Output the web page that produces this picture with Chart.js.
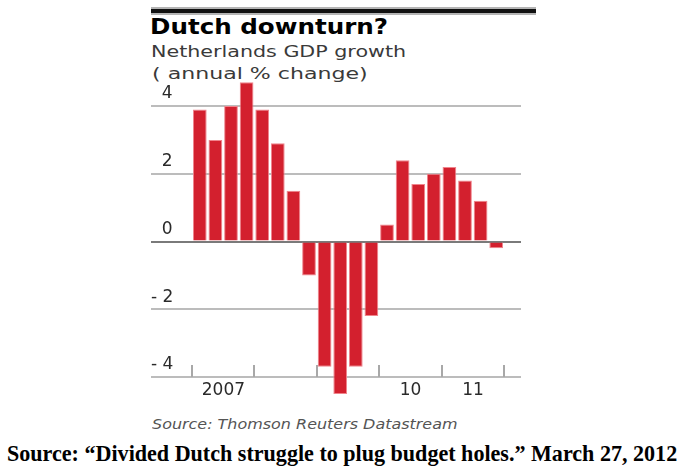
<!DOCTYPE html>
<html lang="en">
<head>
<meta charset="UTF-8" />
<title>Dutch downturn?</title>
<script src="https://cdn.jsdelivr.net/npm/chart.js"></script>
<style>
  body { margin: 0; width: 693px; height: 468px; background: #fff; position: relative; overflow: hidden; font-family: "DejaVu Sans", sans-serif; }
  .abs { position: absolute; white-space: nowrap; transform-origin: left top; }
  #ruleBack { left: 151px; top: 7px; width: 385px; height: 8px; background: #b4b4b4; }
  #rule { left: 151px; top: 9px; width: 385px; height: 4px; background: #111; }
  #title { left: 150px; top: 15px; font-weight: bold; font-size: 21px; color: #000; transform: scaleX(1.17); }
  #sub1 { left: 151px; top: 42px; font-size: 16px; color: #3a3a3a; transform: scaleX(1.29); }
  #sub2 { left: 152px; top: 64px; font-size: 16px; color: #3a3a3a; transform: scaleX(1.38); }
  #src { left: 152px; top: 416px; font-size: 14px; font-style: italic; color: #555; transform: scaleX(1.14); }
  #cap { left: 7px; top: 440px; font-family: "Liberation Serif", serif; font-weight: bold; font-size: 24px; color: #000; transform: scaleX(0.92); }
  #wrap { left: 151px; top: 80px; width: 370px; height: 330px; }
</style>
</head>
<body>
<div class="abs" id="ruleBack"></div>
<div class="abs" id="rule"></div>
<div class="abs" id="title">Dutch downturn?</div>
<div class="abs" id="sub1">Netherlands GDP growth</div>
<div class="abs" id="sub2">( annual % change)</div>
<div class="abs" id="wrap"><canvas id="chart"></canvas></div>
<div class="abs" id="src">Source: Thomson Reuters Datastream</div>
<div class="abs" id="cap">Source: “Divided Dutch struggle to plug budget holes.” March 27, 2012</div>

<script>
// quarterly GDP growth, 2007 Q1 .. 2011 Q4
const quarters = [
  '2007 Q1','2007 Q2','2007 Q3','2007 Q4',
  '2008 Q1','2008 Q2','2008 Q3','2008 Q4',
  '2009 Q1','2009 Q2','2009 Q3','2009 Q4',
  '2010 Q1','2010 Q2','2010 Q3','2010 Q4',
  '2011 Q1','2011 Q2','2011 Q3','2011 Q4'
];
const growth = [3.9, 3.0, 4.0, 4.7, 3.9, 2.9, 1.5, -1.0, -3.7, -4.5, -3.7, -2.2, 0.5, 2.4, 1.7, 2.0, 2.2, 1.8, 1.2, -0.2];
const yearLabels = ['2007', '', '', '10', '11'];
const yTicks = [-4, -2, 0, 2, 4];

const gridGrey = '#bcbcbc';
const zeroGrey = '#7a7a7a';
const lineCol = (c) => c.tick && c.tick.value === 0 ? zeroGrey : gridGrey;

// short upward ticks at each year boundary on the x axis
const yearTicks = {
  id: 'yearTicks',
  afterDatasetsDraw(chart) {
    const x = chart.scales.x, y = chart.scales.y;
    const base = y.getPixelForValue(yTicks[0]);
    const ctx = chart.ctx;
    ctx.save();
    ctx.strokeStyle = '#a8a8a8';
    ctx.lineWidth = 2;
    for (let k = 0; k <= quarters.length; k += 4) {
      const px = Math.round(x.getPixelForValue(k - 0.5));
      ctx.beginPath();
      ctx.moveTo(px, base);
      ctx.lineTo(px, base - 12);
      ctx.stroke();
    }
    ctx.restore();
  }
};

new Chart(document.getElementById('chart'), {
  type: 'bar',
  data: {
    labels: quarters,
    datasets: [{
      data: growth,
      backgroundColor: '#d3202e',
      borderColor: '#f0848c',
      borderWidth: 1,
      categoryPercentage: 1,
      barPercentage: 0.88,
      clip: false
    }]
  },
  options: {
    responsive: true,
    maintainAspectRatio: false,
    animation: false,
    layout: { padding: { top: 26, left: 0, right: 0, bottom: 0 } },
    plugins: { legend: { display: false }, tooltip: { enabled: false } },
    scales: {
      x: {
        grid: { display: false, drawTicks: false },
        border: { display: false },
        afterFit: (s) => { s.height = 33; },
        ticks: {
          autoSkip: false,
          maxRotation: 0,
          padding: 3,
          labelOffset: 8,
          color: '#2a2a2a',
          font: { family: 'DejaVu Sans', size: 17 },
          callback: (v, i) => (i % 4 === 1 ? yearLabels[Math.floor(i / 4)] : '')
        }
      },
      y: {
        position: 'left',
        min: yTicks[0],
        max: yTicks[yTicks.length - 1],
        afterBuildTicks: (s) => { s.ticks = yTicks.map(v => ({ value: v })); },
        afterFit: (s) => { s.width = 41; },
        border: { display: false },
        grid: { color: lineCol, tickColor: lineCol, lineWidth: 2, tickLength: 41 },
        ticks: {
          crossAlign: 'far',
          padding: 0,
          labelOffset: -12,
          color: '#2a2a2a',
          font: { family: 'DejaVu Sans', size: 17 },
          callback: (v) => (v < 0 ? '- ' + Math.abs(v) : '\u2007' + v)
        }
      },
      y2: {
        position: 'right',
        min: yTicks[0],
        max: yTicks[yTicks.length - 1],
        afterBuildTicks: (s) => { s.ticks = yTicks.map(v => ({ value: v })); },
        afterFit: (s) => { s.width = 17; },
        border: { display: false },
        grid: { drawOnChartArea: false, tickColor: lineCol, lineWidth: 2, tickLength: 17 },
        ticks: { display: false }
      }
    }
  },
  plugins: [yearTicks]
});
</script>
</body>
</html>
